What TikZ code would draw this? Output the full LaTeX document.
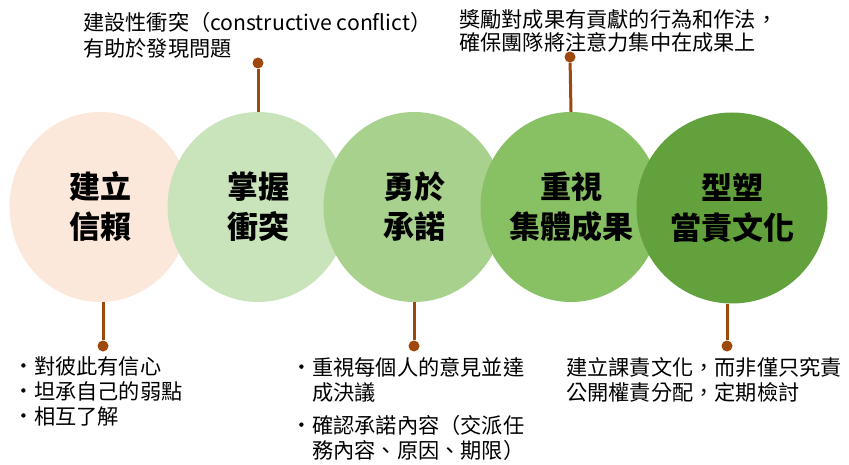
\documentclass[tikz,border=0pt]{standalone}
\usepackage{fontspec}
\setmainfont{Noto Sans CJK TC}
\usetikzlibrary{shapes.geometric}
\definecolor{peach}{HTML}{FCE8DB}
\definecolor{gA}{HTML}{C9E3BB}
\definecolor{gB}{HTML}{A9D18E}
\definecolor{gC}{HTML}{88C064}
\definecolor{gD}{HTML}{62A13C}
\definecolor{stembrown}{HTML}{9E480E}
\newcommand{\bul}{\makebox[13pt][l]{\raisebox{0.3em}{\tikz\fill (0,0) circle (2.2pt);}}}
\begin{document}
\begin{tikzpicture}[x=1pt,y=-1pt,
  bubble/.style={ellipse, inner sep=0pt, minimum width=181pt, minimum height=190pt, align=center, font=\fontsize{31}{40}\selectfont\bfseries},
  stem/.style={draw=stembrown, line width=3pt},
  dot/.style={circle, fill=stembrown, inner sep=0pt, minimum size=11pt},
  note/.style={inner sep=0pt, align=left, anchor=north west, font=\fontsize{21.2}{25}\selectfont}]
\useasboundingbox (0,0) rectangle (849,465);
\node[bubble, fill=peach] (e1) at (100,207) {建立\\信賴};
\node[bubble, fill=gA] (e2) at (258,207) {掌握\\衝突};
\node[bubble, fill=gB] (e3) at (414,207) {勇於\\承諾};
\node[bubble, fill=gC] (e4) at (571,207) {重視\\集體成果};
\node[bubble, fill=gD, minimum width=191pt, minimum height=191pt] (e5) at (732,208) {型塑\\當責文化};
% stems
\node[dot] (d2) at (258,63) {};
\node[dot] (d4) at (570,57) {};
\node[dot] (d1) at (103,346) {};
\node[dot] (d3) at (414,346) {};
\node[dot] (d5) at (727,346) {};
\draw[stem] (e2.north) -- (d2);
\draw[stem] (e4.north) -- (d4);
\draw[stem] (e1.south -| d1) -- (d1);
\draw[stem] (e3.south) -- (d3);
\draw[stem] (e5.south -| d5) -- (d5);
% notes
\node[note, font=\fontsize{21.2}{26}\selectfont] (n2) at (83,12) {建設性衝突（constructive conflict）\\有助於發現問題};
\node[note, font=\fontsize{21.2}{23}\selectfont] (n4) at (459,9) {獎勵對成果有貢獻的行為和作法，\\確保團隊將注意力集中在成果上};
\node[note] (n1) at (21,356) {\bul 對彼此有信心\\\bul 坦承自己的弱點\\\bul 相互了解};
\node[note] (n3) at (299,357) {\bul 重視每個人的意見並達\\\hspace*{13pt}成決議\\[8pt]\bul 確認承諾內容（交派任\\\hspace*{13pt}務內容、原因、期限）};
\node[note] (n5) at (566,357) {建立課責文化，而非僅只究責\\公開權責分配，定期檢討};
\end{tikzpicture}
\end{document}
